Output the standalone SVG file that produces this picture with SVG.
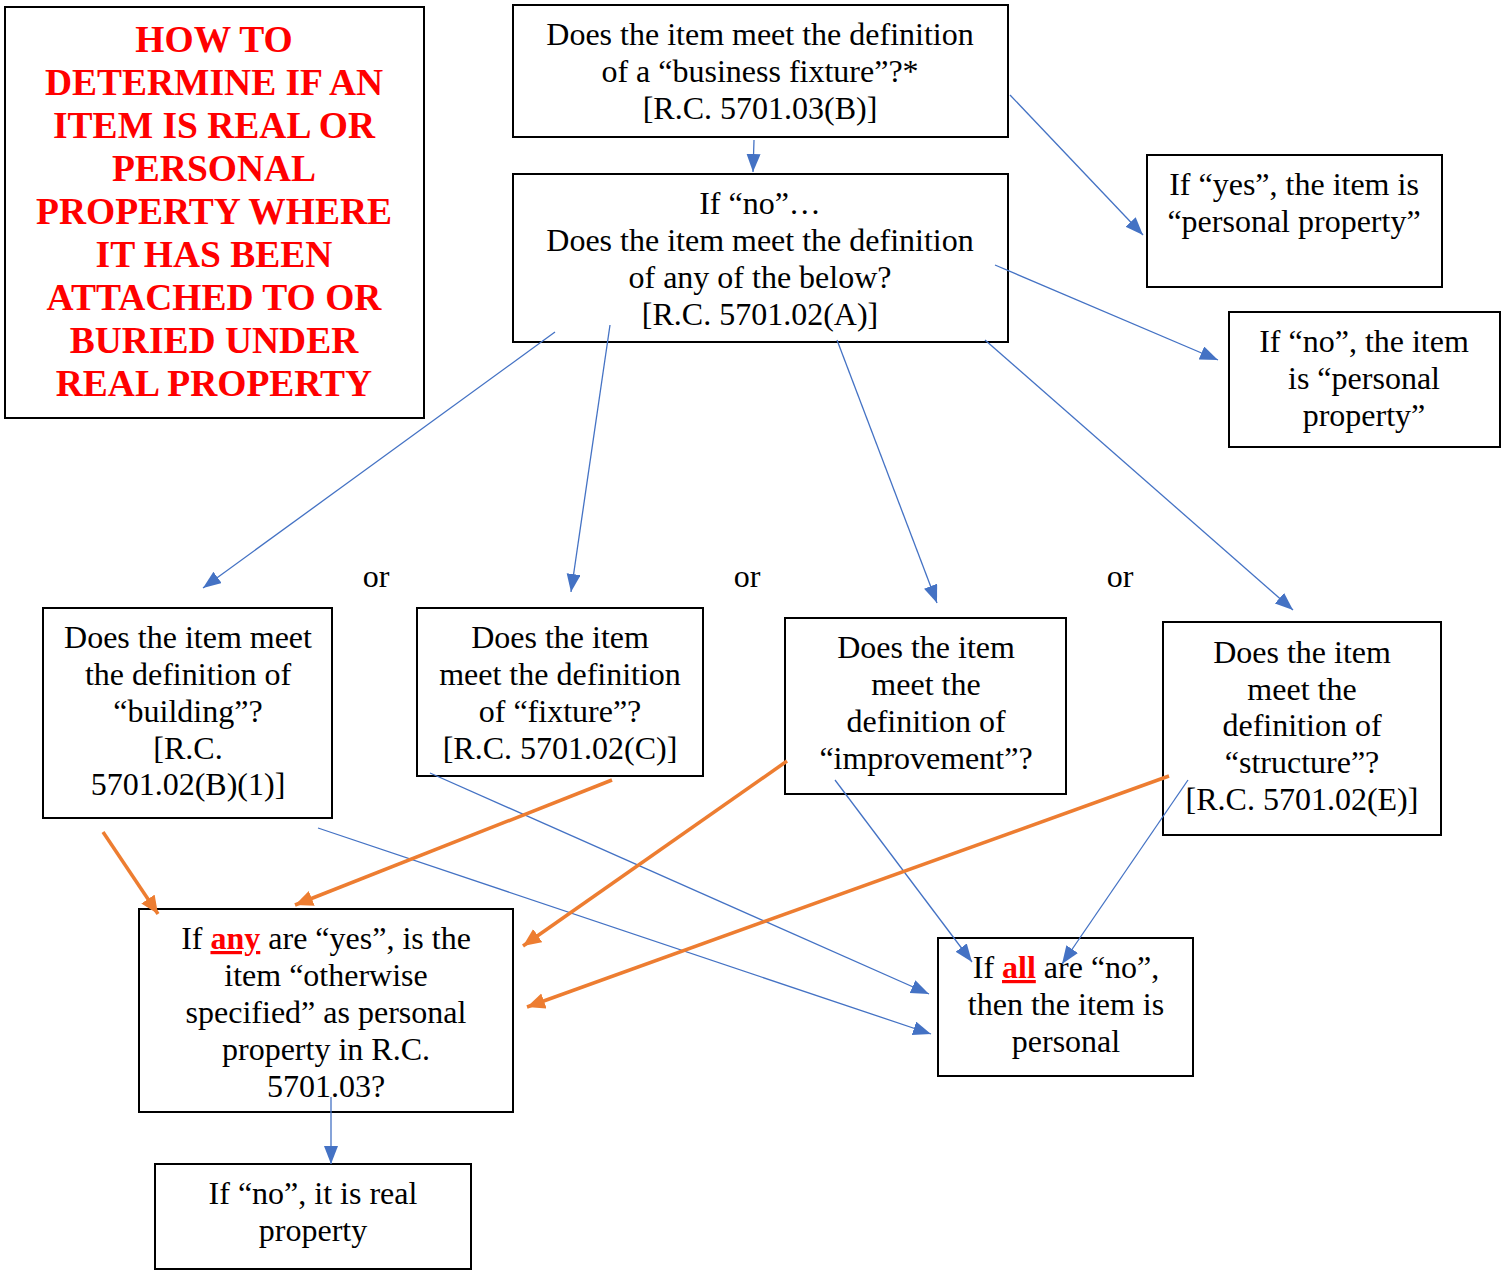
<svg xmlns="http://www.w3.org/2000/svg" width="1509" height="1270" viewBox="0 0 1509 1270">
<style>
.box{fill:#fff;stroke:#000;stroke-width:2}
.t{font-family:"Liberation Serif","Times New Roman",serif;font-size:32px;fill:#000;text-anchor:middle}
.title{font-family:"Liberation Serif","Times New Roman",serif;font-size:37.5px;font-weight:bold;fill:#ff0000;text-anchor:middle}
.red{fill:#ff0000;font-weight:bold;text-decoration:underline}
.b{stroke:#4472C4;stroke-width:1.3;fill:none}
.o{stroke:#ED7D31;stroke-width:3.5;fill:none}
</style>
<defs>
<marker id="ab" markerUnits="userSpaceOnUse" markerWidth="20" markerHeight="16" refX="18" refY="7" orient="auto"><path d="M0,0 L18,7 L0,14 Z" fill="#4472C4"/></marker>
<marker id="ao" markerUnits="userSpaceOnUse" markerWidth="22" markerHeight="18" refX="18" refY="8" orient="auto"><path d="M0,0 L18,8 L0,16 Z" fill="#ED7D31"/></marker>
</defs>
<rect width="1509" height="1270" fill="#fff"/>
<g id="title">
<rect class="box" x="5" y="7" width="419" height="411"/>
<text class="title"><tspan x="214" y="52">HOW TO</tspan><tspan x="214" y="95">DETERMINE IF AN</tspan><tspan x="214" y="138">ITEM IS REAL OR</tspan><tspan x="214" y="181">PERSONAL</tspan><tspan x="214" y="224">PROPERTY WHERE</tspan><tspan x="214" y="267">IT HAS BEEN</tspan><tspan x="214" y="310">ATTACHED TO OR</tspan><tspan x="214" y="353">BURIED UNDER</tspan><tspan x="214" y="396">REAL PROPERTY</tspan></text>
</g>
<g id="q1">
<rect class="box" x="513" y="5" width="495" height="132"/>
<text class="t"><tspan x="760" y="45">Does the item meet the definition</tspan><tspan x="760" y="82">of a “business fixture”?*</tspan><tspan x="760" y="119">[R.C. 5701.03(B)]</tspan></text>
</g>
<g id="q2">
<rect class="box" x="513" y="174" width="495" height="168"/>
<text class="t"><tspan x="760" y="214">If “no”…</tspan><tspan x="760" y="251">Does the item meet the definition</tspan><tspan x="760" y="288">of any of the below?</tspan><tspan x="760" y="325">[R.C. 5701.02(A)]</tspan></text>
</g>
<g id="yes">
<rect class="box" x="1147" y="155" width="295" height="132"/>
<text class="t"><tspan x="1294" y="195">If “yes”, the item is</tspan><tspan x="1294" y="232">“personal property”</tspan></text>
</g>
<g id="no">
<rect class="box" x="1229" y="312" width="271" height="135"/>
<text class="t"><tspan x="1364" y="352">If “no”, the item</tspan><tspan x="1364" y="389">is “personal</tspan><tspan x="1364" y="426">property”</tspan></text>
</g>
<g id="or-labels">
<text class="t" x="376" y="587">or</text>
<text class="t" x="747" y="587">or</text>
<text class="t" x="1120" y="587">or</text>
</g>
<g id="building">
<rect class="box" x="43" y="608" width="289" height="210"/>
<text class="t"><tspan x="188" y="648">Does the item meet</tspan><tspan x="188" y="685">the definition of</tspan><tspan x="188" y="722">“building”?</tspan><tspan x="188" y="759">[R.C.</tspan><tspan x="188" y="795">5701.02(B)(1)]</tspan></text>
</g>
<g id="fixture">
<rect class="box" x="417" y="608" width="286" height="168"/>
<text class="t"><tspan x="560" y="648">Does the item</tspan><tspan x="560" y="685">meet the definition</tspan><tspan x="560" y="722">of “fixture”?</tspan><tspan x="560" y="759">[R.C. 5701.02(C)]</tspan></text>
</g>
<g id="improvement">
<rect class="box" x="785" y="618" width="281" height="176"/>
<text class="t"><tspan x="926" y="658">Does the item</tspan><tspan x="926" y="695">meet the</tspan><tspan x="926" y="732">definition of</tspan><tspan x="926" y="769">“improvement”?</tspan></text>
</g>
<g id="structure">
<rect class="box" x="1163" y="622" width="278" height="213"/>
<text class="t"><tspan x="1302" y="663">Does the item</tspan><tspan x="1302" y="700">meet the</tspan><tspan x="1302" y="736">definition of</tspan><tspan x="1302" y="773">“structure”?</tspan><tspan x="1302" y="810">[R.C. 5701.02(E)]</tspan></text>
</g>
<g id="any">
<rect class="box" x="139" y="909" width="374" height="203"/>
<text class="t"><tspan x="326" y="949">If <tspan class="red">any</tspan> are “yes”, is the</tspan><tspan x="326" y="986">item “otherwise</tspan><tspan x="326" y="1023">specified” as personal</tspan><tspan x="326" y="1060">property in R.C.</tspan><tspan x="326" y="1097">5701.03?</tspan></text>
</g>
<g id="all">
<rect class="box" x="938" y="938" width="255" height="138"/>
<text class="t"><tspan x="1066" y="978">If <tspan class="red">all</tspan> are “no”,</tspan><tspan x="1066" y="1015">then the item is</tspan><tspan x="1066" y="1052">personal</tspan></text>
</g>
<g id="real">
<rect class="box" x="155" y="1164" width="316" height="105"/>
<text class="t"><tspan x="313" y="1204">If “no”, it is real</tspan><tspan x="313" y="1241">property</tspan></text>
</g>
<g id="connectors">
<line class="b" x1="754" y1="140" x2="753" y2="172" marker-end="url(#ab)"/>
<line class="b" x1="1010" y1="95" x2="1143" y2="235" marker-end="url(#ab)"/>
<line class="b" x1="995" y1="265" x2="1218" y2="360" marker-end="url(#ab)"/>
<line class="b" x1="555" y1="332" x2="203" y2="588" marker-end="url(#ab)"/>
<line class="b" x1="610" y1="325" x2="571" y2="592" marker-end="url(#ab)"/>
<line class="b" x1="837" y1="340" x2="937" y2="603" marker-end="url(#ab)"/>
<line class="b" x1="985" y1="340" x2="1293" y2="610" marker-end="url(#ab)"/>
<line class="b" x1="430" y1="773" x2="929" y2="994" marker-end="url(#ab)"/>
<line class="b" x1="318" y1="828" x2="931" y2="1034" marker-end="url(#ab)"/>
<line class="b" x1="835" y1="780" x2="972" y2="962" marker-end="url(#ab)"/>
<line class="b" x1="1188" y1="780" x2="1062" y2="964" marker-end="url(#ab)"/>
<line class="b" x1="331" y1="1097" x2="331" y2="1164" marker-end="url(#ab)"/>
<line class="o" x1="103" y1="832" x2="158" y2="914" marker-end="url(#ao)"/>
<line class="o" x1="612" y1="780" x2="295" y2="905" marker-end="url(#ao)"/>
<line class="o" x1="787" y1="761" x2="523" y2="946" marker-end="url(#ao)"/>
<line class="o" x1="1169" y1="776" x2="527" y2="1007" marker-end="url(#ao)"/>
</g>
</svg>
